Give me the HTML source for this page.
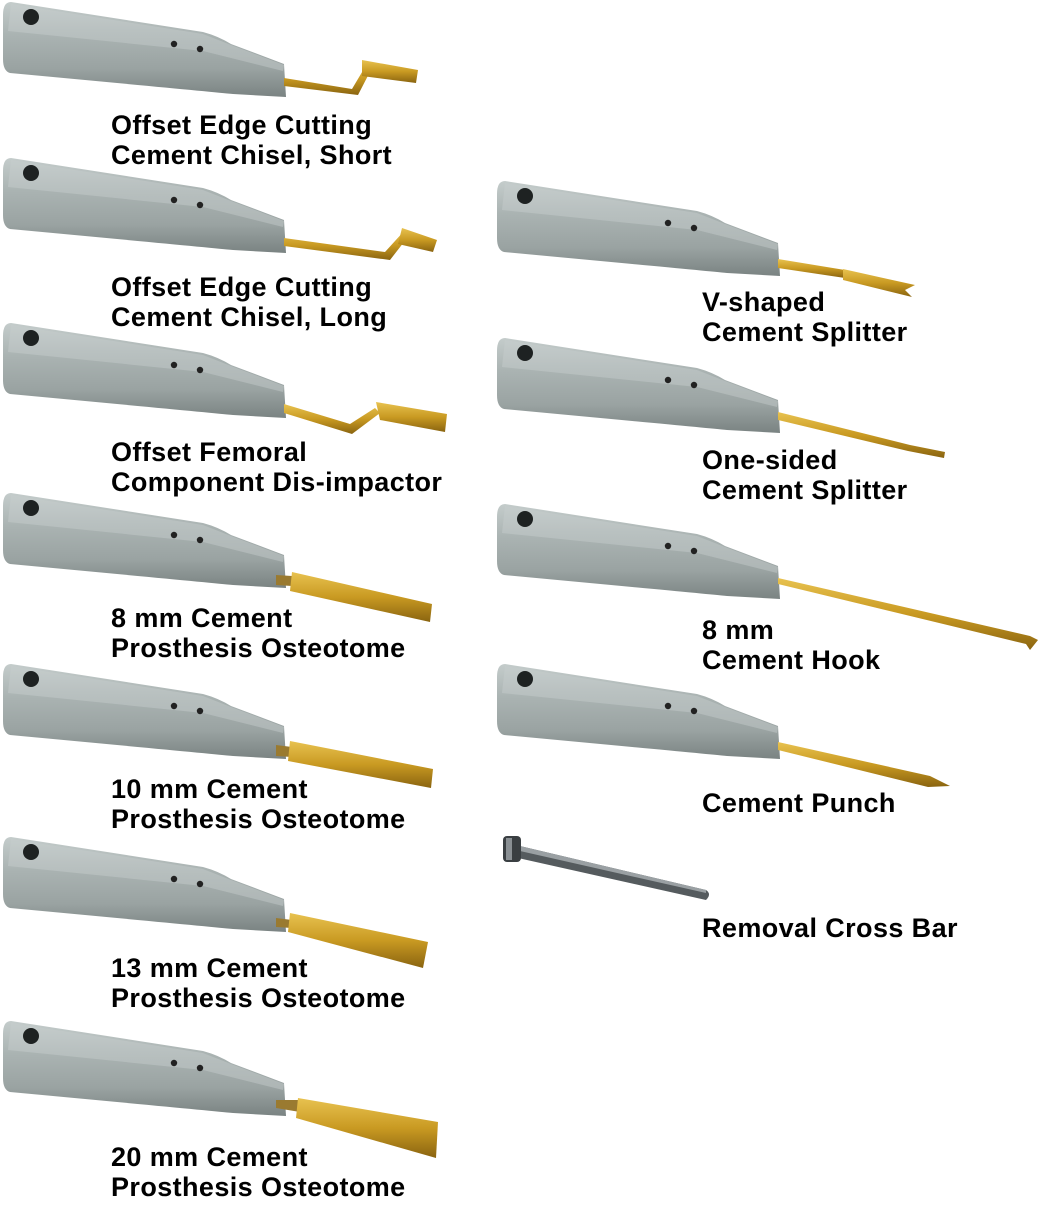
<!DOCTYPE html>
<html><head><meta charset="utf-8"><style>
html,body{margin:0;padding:0;background:#fff}
.w{position:relative;width:1040px;height:1220px;overflow:hidden;background:#fff}
svg{position:absolute;left:0;top:0}
.t{position:absolute;font-family:"Liberation Sans",sans-serif;font-weight:bold;font-size:27px;line-height:30px;color:#000;white-space:nowrap;letter-spacing:0.4px}
</style></head><body><div class="w">
<svg width="1040" height="1220" viewBox="0 0 1040 1220">
<defs>
<linearGradient id="g" x1="0" y1="0" x2="0" y2="1">
<stop offset="0" stop-color="#c4cccb"/><stop offset="0.35" stop-color="#aab3b2"/><stop offset="0.7" stop-color="#9aa3a2"/><stop offset="1" stop-color="#7a8382"/></linearGradient>
<linearGradient id="au" x1="0" y1="0" x2="0" y2="1">
<stop offset="0" stop-color="#e8c250"/><stop offset="0.5" stop-color="#c99a22"/><stop offset="1" stop-color="#8a6410"/></linearGradient>
<g id="h">
<path d="M8,1 L200,31 Q215,35 228,43 L281,63 L283,96 L230,93 Q200,90 7,72 Q0,70 0,58 L0,14 Q0,1 8,1 Z" fill="url(#g)"/>
<path d="M8,3 L200,33 L228,44 L281,64 L280,70 L200,50 L5,30 Z" fill="#c8cfce" opacity="0.45"/>
<circle cx="28" cy="16" r="8" fill="#1e2222"/>
<circle cx="171" cy="43" r="3.2" fill="#222"/>
<circle cx="197" cy="48" r="3.2" fill="#222"/>
</g>
</defs>
<use href="#h" x="3" y="1"/>
<use href="#h" x="3" y="157"/>
<use href="#h" x="3" y="322"/>
<use href="#h" x="3" y="492"/>
<use href="#h" x="3" y="663"/>
<use href="#h" x="3" y="836"/>
<use href="#h" x="3" y="1020"/>
<use href="#h" x="497" y="180"/>
<use href="#h" x="497" y="337"/>
<use href="#h" x="497" y="503"/>
<use href="#h" x="497" y="663"/>

<path d="M284,78 L352,89 L368,62 L374,64 L358,95 L284,86 Z" fill="url(#au)"/>
<path d="M362,60 L418,70 L416,83 L362,76 Z" fill="url(#au)"/>
<path d="M284,238 L385,252 L405,230 L411,233 L390,260 L284,246 Z" fill="url(#au)"/>
<path d="M402,228 L437,240 L433,252 L398,244 Z" fill="url(#au)"/>
<path d="M284,404 L350,424 L375,408 L380,413 L352,434 L284,413 Z" fill="url(#au)"/>
<path d="M376,402 L447,414 L445,432 L380,420 Z" fill="url(#au)"/>
<path d="M276,575 L292,576 L292,586 L276,585 Z" fill="#9a7a30"/>
<path d="M292,572 L432,604 L430,622 L290,591 Z" fill="url(#au)"/>
<path d="M276,745 L292,747 L292,757 L276,756 Z" fill="#9a7a30"/>
<path d="M290,741 L433,769 L431,788 L288,761 Z" fill="url(#au)"/>
<path d="M276,918 L292,920 L292,928 L276,927 Z" fill="#9a7a30"/>
<path d="M290,913 L428,942 L423,968 L288,932 Z" fill="url(#au)"/>
<path d="M276,1100 L300,1100 L300,1112 L276,1108 Z" fill="#9a7a30"/>
<path d="M298,1098 L438,1122 L436,1158 L296,1118 Z" fill="url(#au)"/>
<path d="M778,259 L845,270 L845,278 L778,268 Z" fill="url(#au)"/>
<path d="M843,269 L915,285 L905,290 L912,297 L843,280 Z" fill="url(#au)"/>
<path d="M778,412 L910,445 L945,452 L944,458 L908,451 L778,420 Z" fill="url(#au)"/>
<path d="M778,578 L1030,636 L1038,640 L1030,650 L1026,644 L778,584 Z" fill="url(#au)"/>
<path d="M778,742 L930,776 L950,786 L928,787 L778,750 Z" fill="url(#au)"/>
<path d="M520,846 L706,890 Q712,894 706,900 L518,858 Z" fill="#555b5e"/>
<path d="M520,846 L706,890 L706,893 L520,851 Z" fill="#9aa0a3"/>
<rect x="503" y="836" width="18" height="26" rx="4" fill="#3a3f42"/>
<rect x="506" y="838" width="6" height="22" fill="#8a9094"/>
</svg>
<div class="t" style="left:111px;top:110px">Offset Edge Cutting<br>Cement Chisel, Short</div>
<div class="t" style="left:111px;top:272px">Offset Edge Cutting<br>Cement Chisel, Long</div>
<div class="t" style="left:111px;top:437px">Offset Femoral<br>Component Dis-impactor</div>
<div class="t" style="left:111px;top:603px">8 mm Cement<br>Prosthesis Osteotome</div>
<div class="t" style="left:111px;top:774px">10 mm Cement<br>Prosthesis Osteotome</div>
<div class="t" style="left:111px;top:953px">13 mm Cement<br>Prosthesis Osteotome</div>
<div class="t" style="left:111px;top:1142px">20 mm Cement<br>Prosthesis Osteotome</div>
<div class="t" style="left:702px;top:287px">V-shaped<br>Cement Splitter</div>
<div class="t" style="left:702px;top:445px">One-sided<br>Cement Splitter</div>
<div class="t" style="left:702px;top:615px">8 mm<br>Cement Hook</div>
<div class="t" style="left:702px;top:788px">Cement Punch</div>
<div class="t" style="left:702px;top:913px">Removal Cross Bar</div>
</div></body></html>
